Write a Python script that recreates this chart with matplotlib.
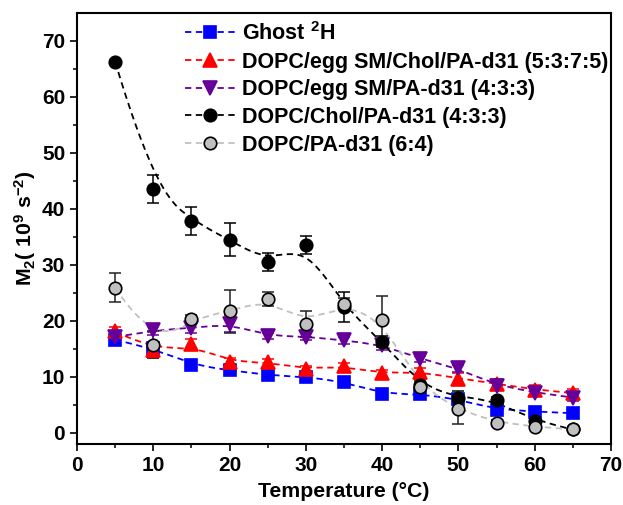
import numpy as np
import matplotlib
matplotlib.use("Agg")
import matplotlib.pyplot as plt

plt.rcParams['font.family'] = ['Liberation Sans', 'DejaVu Sans']
plt.rcParams['font.weight'] = 'bold'
plt.rcParams['mathtext.fontset'] = 'custom'
plt.rcParams['mathtext.rm'] = 'Liberation Sans:bold'
plt.rcParams['mathtext.it'] = 'Liberation Sans:bold'
plt.rcParams['mathtext.bf'] = 'Liberation Sans:bold'
plt.rcParams['mathtext.default'] = 'rm'

temps = [5, 10, 15, 20, 25, 30, 35, 40, 45, 50, 55, 60, 65]

ghost = [16.6, 15.1, 12.1, 11.2, 10.3, 10.0, 9.1, 7.0, 6.9, 6.0, 4.1, 3.8, 3.5]
ghost_err = [0.6, 0.6, 0.9, 0.5, 0.5, 0.4, 0.5, 0.4, 0.8, 0.5, 0.4, 0.4, 0.4]

sm_chol = [18.1, 14.8, 15.8, 12.7, 12.6, 11.4, 11.9, 10.6, 10.9, 9.7, 8.8, 7.7, 7.1]
sm_chol_err = [0.8, 1.5, 1.0, 0.6, 0.6, 0.6, 0.6, 0.6, 0.6, 1.0, 0.8, 0.8, 0.8]

sm = [17.1, 18.3, 18.7, 19.5, 17.3, 17.2, 16.5, 15.7, 13.2, 11.5, 8.4, 7.2, 6.3]
sm_err = [0.6, 0.8, 0.8, 1.5, 0.6, 0.6, 0.6, 0.9, 0.6, 0.7, 0.6, 0.6, 0.6]

chol = [66.3, 43.6, 37.9, 34.5, 30.5, 33.6, 22.5, 16.3, 8.5, 6.3, 5.9, 2.1, 0.6]
chol_err = [0.3, 2.5, 2.5, 2.9, 1.6, 1.6, 2.7, 1.0, 1.2, 1.2, 0.5, 0.5, 0.5]

pa = [25.9, 15.7, 20.4, 21.7, 23.9, 19.5, 23.1, 20.1, 8.2, 4.2, 1.8, 1.1, 0.6]
pa_err = [2.6, 2.4, 0.6, 3.9, 1.2, 2.3, 1.0, 4.4, 1.0, 2.7, 0.5, 0.5, 0.5]

labels = ['Ghost $^{2}$H',
          'DOPC/egg SM/Chol/PA-d31 (5:3:7:5)',
          'DOPC/egg SM/PA-d31 (4:3:3)',
          'DOPC/Chol/PA-d31 (4:3:3)',
          'DOPC/PA-d31 (6:4)']


def bspline(xs, ys, k=3, num=400):
    xs = np.asarray(xs, float)
    ys = np.asarray(ys, float)
    n = len(xs)
    m = n - k
    knots = np.concatenate([np.zeros(k), np.arange(0, m + 1), np.full(k, m)]).astype(float)
    t = np.linspace(0, m, num)
    t[-1] = m - 1e-9
    N = np.zeros((num, len(knots) - 1))
    for i in range(len(knots) - 1):
        N[:, i] = (t >= knots[i]) & (t < knots[i + 1])
    for d in range(1, k + 1):
        Nn = np.zeros((num, len(knots) - 1 - d))
        for i in range(len(knots) - 1 - d):
            a = np.zeros(num)
            b = np.zeros(num)
            den1 = knots[i + d] - knots[i]
            den2 = knots[i + d + 1] - knots[i + 1]
            if den1 > 0:
                a = (t - knots[i]) / den1 * N[:, i]
            if den2 > 0:
                b = (knots[i + d + 1] - t) / den2 * N[:, i + 1]
            Nn[:, i] = a + b
        N = Nn
    return N @ xs, N @ ys


fig = plt.figure(figsize=(6.23, 5.05), dpi=100)
ax = fig.add_axes([77 / 623, 1 - 444 / 505, (611 - 77) / 623, (444 - 13) / 505])

series = [
    (ghost, ghost_err, '#0000ff', 's', '#0000ff', '#0000ff', '#0000ff', 8),
    (sm_chol, sm_chol_err, '#ff0000', '^', '#ff0000', '#ff0000', '#ff0000', 10),
    (sm, sm_err, '#660099', 'v', '#660099', '#660099', '#660099', 10),
    (chol, chol_err, '#000000', 'o', '#000000', '#000000', '#000000', 9),
    (pa, pa_err, '#c0c0c0', 'o', '#c0c0c0', '#000000', '#222222', 9),
]

handles = []
for (vals, errs, lc, mk, mfc, mec, ecol, ms), lab in zip(series, labels):
    sx, sy = bspline(temps, vals)
    ax.plot(sx, sy, color=lc, ls=(0, (3.5, 2.5)), lw=1.3, zorder=2)
    ax.errorbar(temps, vals, yerr=errs, fmt='none', ecolor=ecol, elinewidth=1.1,
                capsize=4, capthick=1.1, zorder=3)
    ax.plot(temps, vals, ls='none', marker=mk, ms=ms, mfc=mfc, mec=mec, mew=1.2, zorder=4)
    h, = ax.plot([], [], color=lc, ls=(0, (3.5, 2.5)), lw=1.3, marker=mk, ms=ms,
                 mfc=mfc, mec=mec, mew=1.2)
    handles.append(h)

ax.set_xlim(0, 70)
ax.set_ylim(-2, 75)
ax.set_xticks(np.arange(0, 71, 10))
ax.set_xticks(np.arange(5, 70, 10), minor=True)
ax.set_yticks(np.arange(0, 71, 10))
ax.set_yticks(np.arange(5, 75, 10), minor=True)
ax.tick_params(which='major', direction='out', length=5, width=1.2, labelsize=15, pad=3.5)
ax.tick_params(which='minor', direction='out', length=2.8, width=1.1)
for lab in ax.get_xticklabels() + ax.get_yticklabels():
    lab.set_fontweight('bold')
for s in ax.spines.values():
    s.set_linewidth(1.5)

ax.set_xlabel('Temperature (°C)', fontsize=15.3, fontweight='bold', labelpad=5)
ax.set_ylabel('M$_{2}$( 10$^{9}$ s$^{-2}$)', fontsize=15.3, fontweight='bold', labelpad=3)

fig.legend(handles=handles, labels=labels, loc='upper left',
           bbox_to_anchor=(185 / 623, 1 - 22 / 505), frameon=False,
           prop={'weight': 'bold', 'size': 15.5}, handlelength=2.35,
           handletextpad=0.3, labelspacing=0.31, borderpad=0, borderaxespad=0)

fig.savefig('out.png', dpi=100)
